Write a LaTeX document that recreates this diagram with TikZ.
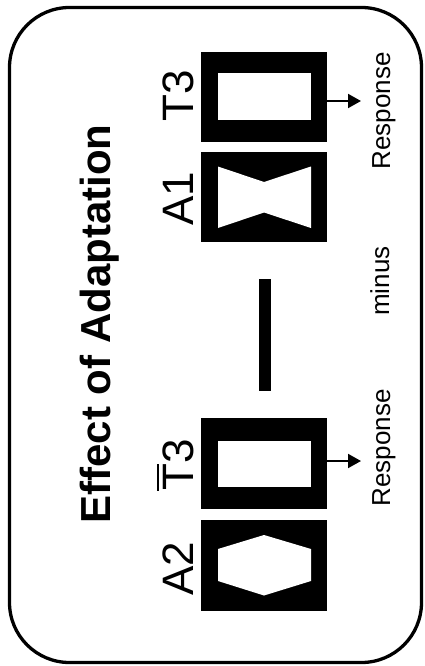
\documentclass[tikz,border=0pt]{standalone}
\usepackage{fontspec}
\setmainfont{Liberation Sans}
\usetikzlibrary{arrows.meta}
\tikzset{
  blackbox/.style={fill=black, draw=none, inner sep=0pt, minimum width=126pt, minimum height=90pt},
  lbl/.style={rotate=90, anchor=base, inner sep=0pt, font=\fontsize{44}{44}\selectfont},
  small/.style={rotate=90, anchor=base, inner sep=0pt, font=\fontsize{26}{26}\selectfont},
  ttl/.style={rotate=90, anchor=base, inner sep=0pt, font=\fontsize{42}{42}\selectfont\bfseries},
  arr/.style={line width=2pt, -{Triangle[length=13pt,width=14pt]}},
  frame/.style={line width=3.3pt, rounded corners=60pt},
}
\begin{document}
\begin{tikzpicture}[x=1pt,y=-1pt]
\useasboundingbox (0,0) rectangle (425,666);
\draw[frame] (9.5,7.5) rectangle (421.5,662.5);
% title
\node[ttl] (title) at (110,324) {Effect of Adaptation};
% boxes
\node[blackbox] (t3a) at (264,97) {};
\node[blackbox] (a1) at (264,197) {};
\node[blackbox, minimum height=91pt] (t3b) at (264,463.5) {};
\node[blackbox, minimum height=91pt] (a2) at (264,565.5) {};
% white inner shapes
\fill[white] (218,73.5) rectangle (311,120.5);
\fill[white] (218,166.5) -- (264,182) -- (311,166.5) -- (311,228) -- (264,212.5) -- (218,228) -- cycle;
\fill[white] (218,441) rectangle (311,487);
\fill[white] (218,549) -- (264,535) -- (311,549) -- (311,581) -- (264,595.5) -- (218,581) -- cycle;
% labels
\node[lbl] (lt3a) at (193,96) {T3};
\node[lbl] (la1) at (193,199) {A1};
\node[lbl] (lt3b) at (193,465) {\makebox[0pt][l]{\rule[34.5pt]{27pt}{1.5pt}}T3};
\node[lbl] (la2) at (193,569) {A2};
% minus bar
\node[fill=black, draw=none, inner sep=0pt, minimum width=12pt, minimum height=112pt] (bar) at (265,335) {};
% responses
\node[small] (resp1) at (390,111) {Response};
\node[small] (minus) at (389,281) {minus};
\node[small] (resp2) at (390,448) {Response};
\coordinate (r1) at (361,101);
\coordinate (r2) at (361,461);
\draw[arr] (t3a.east |- r1) -- (r1);
\draw[arr] (t3b.east |- r2) -- (r2);
\end{tikzpicture}
\end{document}
